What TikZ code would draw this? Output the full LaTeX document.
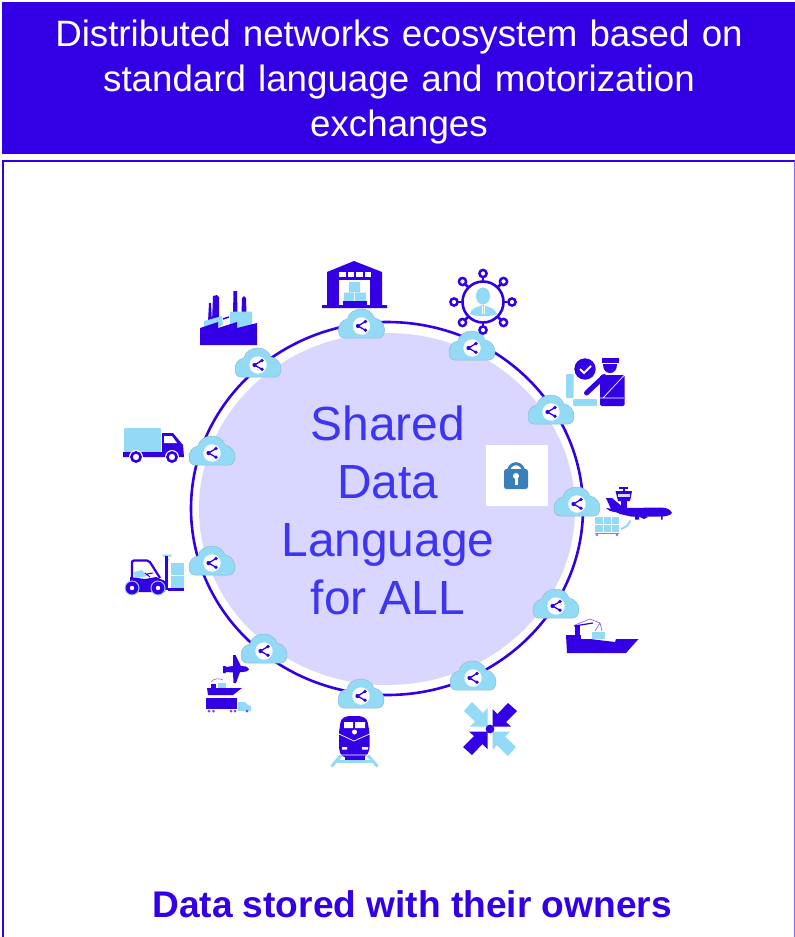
\documentclass[tikz,border=0pt]{standalone}
\usepackage{fontspec}
\setmainfont{Liberation Sans}
\definecolor{dk}{HTML}{3300E6}
\definecolor{lt}{HTML}{92DAF5}
\definecolor{lav}{HTML}{D9D6FF}
\definecolor{txt}{HTML}{3D35F0}
\definecolor{lk}{HTML}{3A7FB8}
\tikzset{
  x=1pt,y=-1pt,
  dkf/.style={fill=dk,draw=none},
  ltf/.style={fill=lt,draw=none},
  whf/.style={fill=white,draw=none},
  cloudicon/.pic={
    \path[fill=lt,draw=lt!70!gray,line width=.5pt]
      (-17,12) -- (17,12) .. controls (21,12) and (23,8) .. (23,4)
      .. controls (23,-2) and (19,-7) .. (13,-8)
      .. controls (11,-14) and (5,-17) .. (0,-17)
      .. controls (-7,-17) and (-13,-13) .. (-14,-7)
      .. controls (-20,-6) and (-23,-1) .. (-23,4)
      .. controls (-23,9) and (-21,12) .. (-17,12) -- cycle;
    \fill[white] (0,0) circle [radius=8.7pt];
    \draw[dk,line width=1.3pt] (4,-4.5) -- (-3.5,0) -- (4,4.3);
    \fill[dk] (-3.5,0) circle [radius=2.1pt] (4,-4.5) circle [radius=1.9pt] (4,4.3) circle [radius=1.9pt];
  },
  arrowicon/.pic={
    \path[pic actions] (2.5,-2.5) -- (2.5,-20) -- (7.5,-15) -- (18,-26) -- (27,-18) -- (16,-7) -- (21,-2.5) -- cycle;
  }
}
\begin{document}
\begin{tikzpicture}
\useasboundingbox (0,0) rectangle (795,937);
\fill[white] (0,0) rectangle (795,937);
% title and frame
\node[fill=dk,draw=none,minimum width=793pt,minimum height=152pt,inner sep=0pt,anchor=north west] (titlebar) at (2,2) {};
\node[text=white,font=\fontsize{36.7}{45}\selectfont,align=center,text width=785pt] (title) at (399,82.5) {Distributed networks ecosystem based on\\standard language and motorization\\exchanges};
\draw[dk,line width=2.4pt] (3,937) -- (3,161) -- (795,161);
\draw[dk!60!white,line width=1pt] (794,161) -- (794,937);
% ring
\draw[dk,line width=2.6pt] (387,508.5) ellipse [x radius=196pt,y radius=186.5pt];
\fill[lav] (387,509) ellipse [x radius=188pt,y radius=176pt];
\node[text=txt,font=\fontsize{47.9}{58}\selectfont,align=center] (shared) at (388,510) {Shared\\Data\\Language\\for ALL};
% lock
\node[fill=white,minimum width=62pt,minimum height=61pt,inner sep=0pt] (lockbox) at (517,475.5) {};
\draw[lk,line width=3pt] (516,472) ellipse [x radius=7.7pt,y radius=8.3pt];
\fill[lk,rounded corners=2.5pt] (504,469) rectangle (528,489);
\fill[white] (516,476) circle [radius=3pt];
\fill[white] (514.5,477) rectangle (517.5,484.5);
% clouds
\foreach \cx/\cy in {361.5/326,258/365,472/348,551/412,577/504,556/606,473/678,361/696,264/651,212/563,212/453}
  \pic at (\cx,\cy) {cloudicon};
% factory
\path[dkf] (208,322) -- (209,303) -- (211,303) -- (212,322) -- cycle;
\path[dkf] (212,322) -- (213,296) -- (217,295) -- (219,297) -- (219,320) -- cycle;
\path[dkf] (233,314) -- (233.5,291) -- (237,291) -- (237.5,314) -- cycle;
\path[dkf] (241.5,314) -- (242,298) -- (244,296) -- (246,298) -- (246.5,314) -- cycle;
\path[ltf] (204,321) -- (222,316) -- (223,325) -- (204,332) -- cycle;
\path[ltf] (230,311.5) -- (252,311.5) -- (252,326) -- (230,332) -- cycle;
\draw[dk,line width=1.5pt] (223,319) -- (229,317);
\path[dkf] (200,328) -- (218,322) -- (218,328) -- (237,322) -- (237,328) -- (257,323) -- (257,345) -- (200,345) -- cycle;
% warehouse
\path[dkf] (327,272) -- (354,261) -- (382,272) -- (382,305) -- (387,305) -- (387,308) -- (322,308) -- (322,305) -- (327,305) -- cycle;
\foreach \wx in {339,347.5,356,364.5} \fill[white] (\wx,272) rectangle ++(6.5,5);
\fill[white] (339,280) rectangle (370,305);
\path[ltf] (349,282) rectangle (360,292) (344,292.5) rectangle (354,301) (355,292.5) rectangle (366,301);
\path[dkf] (343,301) rectangle (367,305);
% person network
\foreach \sx/\sy/\ex/\ey in {483/273.5/483/281,503.5/281.5/498/287,512/302/504/302,503.5/322.5/498/317,483/330/483/323,462.5/322.5/468/317,454/302/462/302,462.5/281.5/468/287}{
  \draw[dk,line width=2.5pt] (\sx,\sy) -- (\ex,\ey);
  \draw[dk,line width=2.5pt,fill=white] (\sx,\sy) circle [radius=3.6pt];
}
\draw[dk,line width=2.6pt,fill=white] (483,302) circle [radius=20.5pt];
\path[ltf] (483,296) ellipse [x radius=7pt,y radius=8.5pt];
\path[ltf] (470,314) .. controls (471,308) and (477,307) .. (483,305) .. controls (489,307) and (495,308) .. (497,314) .. controls (490,317) and (476,317) .. (470,314) -- cycle;
\draw[white,line width=.5pt] (482,306) -- (482,314) (484,306) -- (484,314);
% customs
\fill[dk] (585,369) circle [radius=10.7pt];
\draw[white,line width=1.9pt] (580,369) -- (584,373) -- (591,366);
\path[dkf] (601.5,358) -- (619,358) -- (619,363) -- (601.5,363) -- cycle;
\path[dkf] (603,364) -- (617,364) .. controls (617,370) and (614,373) .. (610,373) .. controls (606,373) and (603,370) .. (603,364) -- cycle;
\path[dkf,rounded corners=1.5pt] (600,375) -- (624.5,375) -- (624.5,406) -- (600,406) -- cycle;
\draw[dk,line width=5pt,line cap=round] (586.5,393) -- (604,376.5);
\draw[white,line width=.7pt] (624.5,375) -- (603,398) (600,398) -- (624,398);
\path[ltf,rounded corners=1pt] (566,374) rectangle (573.5,398);
\path[ltf,rounded corners=1pt] (573,399) rectangle (597,406);
% airplane
\path[dkf] (623,487) rectangle (624.5,492);
\path[dkf] (619,486.5) rectangle (628,488.5);
\path[dkf] (615.5,491) -- (632,491) -- (630,501) -- (618,501) -- cycle;
\path[fill=lav] (618,494) rectangle (630,497);
\path[dkf] (620.5,500) rectangle (627,510);
\path[dkf] (606,498) -- (612,498) -- (624,508) -- (662,507.5) .. controls (668,508) and (671,510.5) .. (672,513) .. controls (670,515.5) and (666,516.5) .. (660,516.5) -- (631,516.5) -- (620,514) -- (611,509) -- cycle;
\path[dkf] (606,508) -- (618,509.5) -- (624,514) -- (610,511) -- cycle;
\path[dkf] (627,511) -- (635,512) -- (648,517) -- (644,519) -- cycle;
\path[dkf] (635,516) rectangle (639,519.5) (661,516) rectangle (662.5,519.5);
\path[ltf] (595,517) rectangle (619,532);
\draw[white,line width=.8pt] (603,517) -- (603,532) (611,517) -- (611,532) (595,524.5) -- (619,524.5);
\draw[dk!55!white,line width=.8pt] (595,533) -- (619,533);
\fill[dk!55!white] (597,535) circle [radius=1.3pt] (617,535) circle [radius=1.3pt];
\draw[lt,line width=2pt] (621,529) -- (627,526) -- (630.5,520.5);
% ship
\path[dkf] (566,635) -- (569,635) -- (569,639) -- (590,639) -- (615,642) -- (616,639) -- (638.5,639) -- (626,653) -- (567,653) -- cycle;
\path[dkf] (569,635) rectangle (581,640);
\path[dkf] (575,625) rectangle (580,635);
\draw[dk,line width=1.2pt] (574,626) -- (593,623);
\draw[dk!65!white,line width=.6pt] (575,625) -- (590,619) -- (600,623) -- (595,631) (600,623) -- (602,631);
\path[ltf] (592,632) rectangle (605,639);
% train
\draw[lt,line width=3pt] (331.5,766.5) -- (341,755.5) (377.5,766.5) -- (368,755.5);
\draw[lt,line width=2.6pt] (337,761.5) -- (372,761.5);
\path[dkf,rounded corners=3pt] (339,732) -- (341,719) -- (347,716) -- (361,716) -- (367,719) -- (369.5,732) -- (369.5,750) -- (366,757) -- (342,757) -- (339,750) -- cycle;
\path[dkf] (345,756) rectangle (365,760);
\path[whf] (344,722) rectangle (353,728) (355,722) rectangle (365,728);
\fill[white] (354.5,732) circle [radius=2.5pt];
\draw[white,line width=.7pt] (339,734) -- (354,741) -- (369.5,734) (340,755) -- (368,755);
\path[whf] (342,747) rectangle (347,749.5) (362,747) rectangle (368,749.5);
% converging arrows
\begin{scope}[shift={(490,729)}]
  \pic[dkf] at (0,0) {arrowicon};
  \pic[ltf,rotate=90] at (0,0) {arrowicon};
  \pic[dkf,rotate=180] at (0,0) {arrowicon};
  \pic[ltf,rotate=270] at (0,0) {arrowicon};
  \fill[dk] (0,0) circle [radius=4.4pt];
\end{scope}
% truck
\path[ltf,rounded corners=1pt] (124,428) rectangle (161,452);
\path[dkf] (162,433) -- (173,433) -- (183,445) -- (184,457) -- (123,457) -- (123,452) -- (162,452) -- cycle;
\path[whf] (164,436) -- (172,436) -- (177,443) -- (164,443) -- cycle;
\foreach \wx in {136,172}{
  \fill[white] (\wx,457) circle [radius=7pt];
  \draw[dk,line width=2.6pt] (\wx,457) circle [radius=4.6pt];
}
% forklift
\draw[dk,line width=2.2pt,rounded corners=2pt] (132,578) -- (132,560.5) -- (149,560.5) -- (160,578);
\path[ltf] (134,572) -- (142,570) -- (148,576) -- (135,578) -- cycle;
\draw[dk,line width=1pt] (147,574) -- (153,573) (145,573) -- (150,577);
\path[dkf] (130,577) -- (145,579) -- (156,577) -- (165,581) -- (165,592) -- (130,592) -- cycle;
\path[ltf] (162.5,554.5) rectangle (171.5,556.5) (165,559) rectangle (169,560.5);
\path[dkf] (165,556) rectangle (168,590);
\path[ltf] (171,563) rectangle (184,588);
\draw[white,line width=.5pt] (171,575.5) -- (184,575.5);
\path[dkf] (168,588) rectangle (184,591);
\foreach \wx in {132,158}{
  \fill[lt] (\wx,588) circle [radius=7.5pt];
  \fill[dk] (\wx,588) circle [radius=6.4pt];
  \fill[white] (\wx,588) circle [radius=2.2pt];
}
% plane, ship and truck
\path[dkf] (223,666) -- (225.5,666) -- (226,667) -- (233,666) -- (233,655) -- (235.5,655) -- (241,666) -- (246,666.5) .. controls (248,667.5) and (249,668.5) .. (249,669.5) .. controls (248,671) and (246,672) .. (243,672) -- (240,672) -- (236,683) -- (233.5,683) -- (233,672.5) -- (226,672) -- (225.5,673) -- (223,673) -- cycle;
\path[dkf] (207,688) -- (242,688) -- (233,695) -- (208,695) -- cycle;
\path[dkf] (211,684) rectangle (216,688);
\path[ltf] (218,683) rectangle (226,688);
\draw[dk!70!white,line width=.5pt] (211,682) .. controls (214,678) and (220,678) .. (223,680);
\path[dkf] (206,698) rectangle (237,708.5);
\path[ltf] (238,702) -- (245,702) -- (248,705) -- (251,706) -- (251,711) -- (238,711) -- cycle;
\fill[dk!70!white] (209,711) circle [radius=1.5pt] (213.5,711) circle [radius=1.5pt] (231,711) circle [radius=1.5pt] (235,711) circle [radius=1.5pt] (247,711) circle [radius=1.5pt];
% caption
\node[text=dk,font=\fontsize{37.1}{44}\selectfont\bfseries] (caption) at (412,904) {Data stored with their owners};
\end{tikzpicture}
\end{document}
